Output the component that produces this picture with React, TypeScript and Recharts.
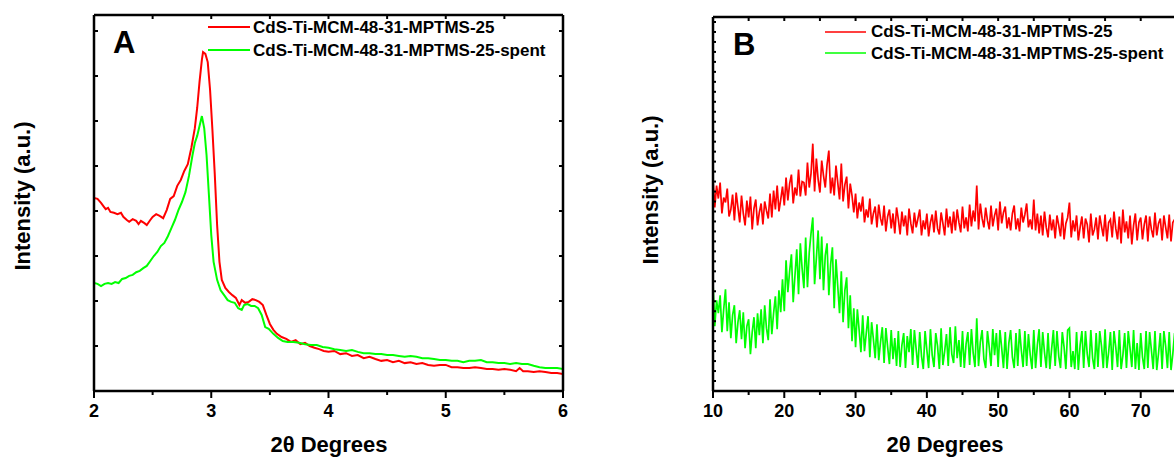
import { LineChart, Line, XAxis, YAxis } from "recharts";

// series shared by both panels
const seriesNames = ["CdS-Ti-MCM-48-31-MPTMS-25", "CdS-Ti-MCM-48-31-MPTMS-25-spent"];
const seriesColors = ["#ff0000", "#00ff00"];

// panel A: low-angle XRD, [2theta, intensity a.u.]
const aRed = [
  [2.0, 4.29], [2.03, 4.27], [2.06, 4.18], [2.08, 4.11], [2.1, 4.04], [2.12, 4.07], [2.14, 3.98],
  [2.17, 3.96], [2.2, 3.93], [2.23, 3.96], [2.25, 3.87], [2.28, 3.8], [2.3, 3.76], [2.33, 3.82],
  [2.36, 3.78], [2.38, 3.71], [2.4, 3.78], [2.43, 3.73], [2.45, 3.69], [2.48, 3.8], [2.5, 3.87],
  [2.53, 3.93], [2.56, 3.89], [2.59, 3.84], [2.62, 4.02], [2.65, 4.27], [2.68, 4.33], [2.71, 4.56],
  [2.74, 4.69], [2.77, 4.89], [2.8, 5.04], [2.83, 5.4], [2.86, 5.84], [2.88, 6.29], [2.9, 6.87],
  [2.92, 7.36], [2.93, 7.53], [2.95, 7.49], [2.97, 7.31], [2.99, 6.69], [3.01, 5.8], [3.03, 4.82],
  [3.05, 3.69], [3.07, 2.87], [3.09, 2.47], [3.12, 2.29], [3.15, 2.2], [3.18, 2.13], [3.21, 2.07],
  [3.24, 1.91], [3.26, 2.02], [3.29, 1.96], [3.32, 1.98], [3.35, 2.04], [3.38, 2.02], [3.41, 1.98],
  [3.44, 1.91], [3.47, 1.69], [3.5, 1.49], [3.53, 1.36], [3.56, 1.27], [3.6, 1.2], [3.64, 1.16],
  [3.68, 1.09], [3.72, 1.13], [3.76, 1.04], [3.8, 1.07], [3.84, 1.0], [3.88, 0.96], [3.92, 0.93],
  [3.96, 0.89], [4.0, 0.87], [4.05, 0.89], [4.1, 0.82], [4.15, 0.84], [4.2, 0.78], [4.25, 0.8],
  [4.3, 0.73], [4.35, 0.76], [4.4, 0.71], [4.45, 0.67], [4.5, 0.69], [4.55, 0.64], [4.6, 0.67],
  [4.65, 0.62], [4.7, 0.64], [4.75, 0.6], [4.8, 0.62], [4.85, 0.58], [4.9, 0.56], [4.95, 0.58],
  [5.0, 0.58], [5.05, 0.53], [5.1, 0.53], [5.15, 0.51], [5.2, 0.51], [5.25, 0.53], [5.3, 0.51],
  [5.35, 0.49], [5.4, 0.49], [5.45, 0.47], [5.5, 0.49], [5.55, 0.47], [5.6, 0.44], [5.63, 0.51],
  [5.66, 0.44], [5.7, 0.44], [5.75, 0.42], [5.8, 0.44], [5.85, 0.42], [5.9, 0.4], [5.95, 0.4],
  [6.0, 0.38],
];
const aGreen = [
  [2.0, 2.4], [2.03, 2.38], [2.06, 2.33], [2.09, 2.38], [2.12, 2.4], [2.15, 2.38], [2.18, 2.42],
  [2.21, 2.4], [2.24, 2.49], [2.27, 2.51], [2.3, 2.56], [2.33, 2.58], [2.36, 2.64], [2.39, 2.67],
  [2.42, 2.73], [2.45, 2.78], [2.48, 2.89], [2.51, 3.0], [2.54, 3.09], [2.57, 3.22], [2.6, 3.29],
  [2.63, 3.44], [2.66, 3.62], [2.69, 3.8], [2.72, 4.02], [2.75, 4.2], [2.78, 4.42], [2.81, 4.78],
  [2.84, 5.24], [2.86, 5.51], [2.88, 5.67], [2.9, 5.89], [2.92, 6.11], [2.94, 5.84], [2.96, 5.24],
  [2.98, 4.36], [3.0, 3.47], [3.02, 2.87], [3.05, 2.47], [3.08, 2.24], [3.11, 2.13], [3.14, 2.02],
  [3.17, 1.98], [3.2, 1.96], [3.23, 1.84], [3.26, 1.8], [3.28, 1.91], [3.31, 1.93], [3.34, 1.89],
  [3.37, 1.89], [3.4, 1.84], [3.43, 1.69], [3.46, 1.42], [3.49, 1.38], [3.53, 1.27], [3.57, 1.18],
  [3.61, 1.11], [3.65, 1.09], [3.7, 1.09], [3.75, 1.07], [3.8, 1.04], [3.85, 1.02], [3.9, 1.02],
  [3.95, 0.98], [4.0, 0.96], [4.05, 0.93], [4.1, 0.91], [4.15, 0.89], [4.2, 0.91], [4.25, 0.87],
  [4.3, 0.84], [4.35, 0.84], [4.4, 0.82], [4.45, 0.82], [4.5, 0.8], [4.55, 0.8], [4.6, 0.78],
  [4.65, 0.76], [4.7, 0.78], [4.75, 0.76], [4.8, 0.73], [4.85, 0.73], [4.9, 0.71], [4.95, 0.69],
  [5.0, 0.69], [5.05, 0.67], [5.1, 0.67], [5.15, 0.64], [5.2, 0.67], [5.25, 0.67], [5.3, 0.69],
  [5.35, 0.64], [5.4, 0.64], [5.45, 0.62], [5.5, 0.62], [5.55, 0.6], [5.6, 0.62], [5.65, 0.6],
  [5.7, 0.6], [5.75, 0.56], [5.8, 0.53], [5.85, 0.51], [5.9, 0.51], [5.95, 0.51], [6.0, 0.49],
];
const aLabelTicks = [2, 3, 4, 5, 6];
const aAllTicks = [2, 2.5, 3, 3.5, 4, 4.5, 5, 5.5, 6];
const aYTicks = [0, 1, 2, 3, 4, 5, 6, 7, 8];

// panel B: wide-angle XRD, sampled every 0.25 deg from 10
const bStart = 10;
const bStep = 0.25;
const bRed = [
  21.2, 18.4, 20.6, 19.3, 20.9, 17.8, 19.4, 18.9, 20.3, 17.5, 18.2, 19.7, 17.1, 19.9, 18.4, 16.9,
  19.6, 17.8, 16.6, 19.1, 17.4, 19.5, 16.2, 18.3, 19.2, 16.6, 17.9, 18.8, 16.7, 19.0, 18.1, 17.3,
  19.8, 17.4, 20.1, 18.2, 20.6, 18.0, 19.2, 20.5, 18.6, 21.4, 19.1, 20.8, 21.7, 18.8, 20.4, 19.6,
  22.2, 19.5, 21.0, 20.9, 19.6, 22.9, 20.4, 21.8, 24.8, 20.0, 23.3, 21.2, 19.9, 23.1, 21.6, 20.4,
  22.7, 24.1, 19.8, 21.4, 19.6, 22.6, 20.9, 19.2, 22.8, 19.0, 20.7, 21.5, 18.3, 20.8, 19.6, 17.9,
  19.8, 17.3, 18.9, 18.0, 19.5, 16.9, 18.2, 17.4, 19.3, 16.7, 17.8, 18.5, 16.4, 18.7, 17.3, 16.6,
  18.6, 16.0, 17.5, 18.2, 16.3, 17.8, 15.8, 18.4, 17.2, 15.7, 18.0, 16.5, 17.6, 15.6, 18.3, 16.8,
  15.8, 17.9, 16.4, 17.3, 18.2, 15.6, 17.1, 16.2, 17.8, 15.5, 16.9, 17.7, 15.9, 18.1, 16.3, 15.7,
  17.9, 16.8, 15.6, 18.3, 16.4, 17.5, 15.8, 18.0, 16.1, 18.2, 16.9, 15.9, 18.5, 16.3, 17.4, 16.0,
  18.7, 16.5, 18.1, 17.0, 20.6, 16.2, 18.8, 17.3, 16.4, 18.4, 17.1, 16.2, 18.6, 16.5, 17.6, 18.3,
  16.1, 19.0, 16.8, 17.9, 18.5, 16.3, 17.4, 16.1, 17.8, 18.6, 16.2, 17.3, 16.0, 18.4, 16.9, 17.7,
  18.8, 16.4, 17.2, 16.2, 19.2, 16.1, 17.8, 15.8, 17.6, 15.6, 18.0, 16.4, 15.4, 17.7, 16.1, 17.2,
  15.3, 17.6, 16.6, 15.5, 17.9, 15.2, 16.8, 17.4, 18.9, 15.4, 17.1, 16.0, 17.6, 15.1, 16.4, 17.5,
  15.3, 17.3, 16.7, 14.9, 17.8, 15.6, 16.2, 17.4, 15.2, 17.6, 16.5, 15.5, 17.7, 15.0, 16.9, 17.2,
  15.4, 18.0, 16.3, 15.2, 17.5, 14.8, 18.2, 15.9, 17.0, 15.3, 17.6, 14.7, 16.6, 17.8, 15.1, 16.9,
  17.4, 15.2, 16.7, 17.6, 15.0, 17.5, 16.2, 15.4, 17.9, 15.6, 16.8, 17.3, 15.1, 17.6, 16.4, 15.3,
  17.7, 15.0, 16.9, 17.2, 15.5, 17.8, 16.1, 15.2, 17.4, 16.6, 15.0, 17.7, 15.3, 17.5, 16.4, 15.6,
  17.8, 15.1, 16.7, 17.3, 15.4, 17.6, 16.2, 15.2, 17.5,
];
const bGreen = [
  10.8, 6.5, 9.1, 7.8, 9.6, 5.9, 8.2, 10.2, 6.0, 8.9, 5.3, 7.6, 8.6, 4.8, 6.9, 8.1,
  5.2, 7.9, 4.3, 6.5, 7.2, 3.7, 5.9, 7.4, 4.3, 7.8, 5.6, 8.2, 4.8, 8.6, 6.3, 5.1,
  9.2, 5.7, 7.8, 9.5, 6.2, 10.1, 7.9, 11.2, 8.0, 13.1, 9.9, 12.0, 13.7, 8.9, 11.6, 14.2,
  9.7, 14.8, 12.3, 10.3, 15.4, 10.4, 13.9, 15.8, 17.4, 10.7, 13.3, 16.1, 11.2, 15.5, 10.1, 13.6,
  14.8, 9.6, 12.7, 14.4, 8.3, 13.2, 10.5, 7.8, 12.0, 6.9, 10.1, 11.4, 6.3, 9.6, 5.0, 8.3,
  4.4, 8.2, 6.1, 3.9, 7.6, 4.0, 5.8, 7.5, 3.4, 6.9, 5.2, 3.3, 6.7, 3.1, 4.9, 6.4,
  2.8, 6.3, 4.4, 2.7, 6.1, 3.2, 5.3, 2.5, 6.0, 2.4, 4.6, 5.8, 2.3, 5.5, 3.9, 6.2,
  2.6, 6.1, 4.2, 2.3, 5.9, 3.5, 2.2, 6.0, 4.1, 2.3, 6.2, 3.6, 2.4, 5.8, 4.5, 2.2,
  6.3, 2.6, 4.0, 5.7, 2.5, 6.4, 3.7, 2.8, 6.5, 3.3, 5.1, 2.4, 6.0, 2.3, 4.7, 5.9,
  2.6, 6.2, 3.8, 2.4, 7.3, 2.5, 4.9, 6.1, 3.2, 2.3, 6.0, 4.4, 2.5, 6.2, 3.6, 5.8,
  2.4, 6.1, 4.3, 2.3, 5.9, 2.2, 4.8, 6.1, 3.4, 2.3, 5.8, 2.5, 6.2, 4.1, 2.4, 6.0,
  2.5, 5.7, 3.6, 2.2, 6.1, 2.3, 4.6, 6.2, 2.4, 5.9, 3.9, 2.3, 5.8, 2.2, 4.2, 6.1,
  2.5, 6.0, 3.5, 2.3, 5.9, 4.4, 2.2, 6.1, 6.3, 2.4, 4.0, 2.2, 5.9, 2.1, 4.6, 6.0,
  2.3, 6.0, 3.7, 2.4, 6.1, 3.3, 2.2, 5.8, 2.4, 6.0, 4.5, 2.3, 6.2, 2.3, 3.9, 5.9,
  2.1, 6.0, 4.4, 2.4, 6.1, 2.2, 3.6, 5.8, 2.3, 6.0, 4.3, 2.4, 6.1, 2.2, 4.8, 2.1,
  5.8, 3.4, 2.2, 6.0, 2.3, 5.9, 4.1, 2.2, 6.0, 2.1, 3.8, 5.8, 2.2, 6.0, 4.5, 2.3,
  5.9, 2.1, 3.7, 5.8, 2.3, 6.0, 4.2, 2.2, 5.9, 2.3, 3.6, 6.0, 2.1, 5.8, 4.4, 2.3,
  6.0, 2.2, 3.9, 5.8, 2.3, 5.9, 4.0, 2.2, 5.8,
];
const bLabelTicks = [10, 20, 30, 40, 50, 60, 70];
const bAllTicks = [10, 15, 20, 25, 30, 35, 40, 45, 50, 55, 60, 65, 70, 75, 80];
const bYTicks = Array.from({ length: 38 }, (_, i) => i);

const xTitle = "2θ Degrees";
const yTitle = "Intensity (a.u.)";

const font = "'Liberation Sans', Arial, sans-serif";
const axisLine = { stroke: "#000", strokeWidth: 2.5 };

const aRedData = aRed.map(([x, y]) => ({ x, y }));
const aGreenData = aGreen.map(([x, y]) => ({ x, y }));
const bData = bRed.map((v, i) => ({ x: bStart + i * bStep, red: v, green: bGreen[i] }));

// draws tick marks (and labels on the bottom axis) at the axis line
function tickRenderer(side: string, major: number[], majorLen: number, minorLen: number) {
  return (props: any) => {
    const { x, y, payload } = props;
    const v = payload.value;
    const isMajor = major.includes(v);
    const len = isMajor ? majorLen : minorLen;
    const ln = { stroke: "#000", strokeWidth: 2 };
    if (side === "bottom") {
      return (
        <g>
          <line x1={x} y1={y} x2={x} y2={y + len} {...ln} />
          {isMajor && (
            <text x={x} y={y + 26} textAnchor="middle" fontFamily={font} fontWeight="bold"
              fontSize={18} fill="#000">{v}</text>
          )}
        </g>
      );
    }
    if (side === "top") return <line x1={x} y1={y} x2={x} y2={y + len} {...ln} />;
    if (side === "left") return <line x1={x} y1={y} x2={x + len} y2={y} {...ln} />;
    return <line x1={x} y1={y} x2={x - len} y2={y} {...ln} />;
  };
}

function PanelA() {
  const xProps = { type: "number" as const, dataKey: "x", domain: [2, 6], ticks: aAllTicks,
    allowDataOverflow: true, height: 1, mirror: true, tickSize: 0, tickMargin: 0,
    axisLine, tickLine: false, interval: 0 as const };
  const yProps = { type: "number" as const, domain: [0, 8.356], ticks: aYTicks,
    allowDataOverflow: true, width: 1, mirror: true, tickSize: 0, tickMargin: 0,
    axisLine, tickLine: false, interval: 0 as const };
  return (
    <LineChart width={600} height={460} margin={{ top: 15, right: 37, bottom: 69, left: 94 }}>
      <XAxis xAxisId="b" orientation="bottom" {...xProps} tick={tickRenderer("bottom", aLabelTicks, 7, 4)} />
      <XAxis xAxisId="t" orientation="top" {...xProps} tick={tickRenderer("top", aLabelTicks, 4, 4)} />
      <YAxis yAxisId="l" orientation="left" {...yProps} tick={tickRenderer("left", aYTicks, 4, 4)} />
      <YAxis yAxisId="r" orientation="right" {...yProps} tick={tickRenderer("right", aYTicks, 4, 4)} />
      <Line xAxisId="b" yAxisId="l" data={aRedData} dataKey="y" stroke={seriesColors[0]}
        strokeWidth={2} dot={false} type="linear" isAnimationActive={false} />
      <Line xAxisId="b" yAxisId="l" data={aGreenData} dataKey="y" stroke={seriesColors[1]}
        strokeWidth={2} dot={false} type="linear" isAnimationActive={false} />
    </LineChart>
  );
}

function PanelB() {
  const xProps = { type: "number" as const, dataKey: "x", domain: [10, 80], ticks: bAllTicks,
    allowDataOverflow: true, height: 1, mirror: true, tickSize: 0, tickMargin: 0,
    axisLine, tickLine: false, interval: 0 as const };
  const yProps = { type: "number" as const, domain: [0, 37.5], ticks: bYTicks,
    allowDataOverflow: true, width: 1, mirror: true, tickSize: 0, tickMargin: 0,
    axisLine, tickLine: false, interval: 0 as const };
  return (
    <LineChart width={620} height={460} data={bData} margin={{ top: 17, right: 28, bottom: 69, left: 93 }}>
      <XAxis xAxisId="b" orientation="bottom" {...xProps} tick={tickRenderer("bottom", bLabelTicks, 7, 4)} />
      <XAxis xAxisId="t" orientation="top" {...xProps} tick={tickRenderer("top", bLabelTicks, 4, 4)} />
      <YAxis yAxisId="l" orientation="left" {...yProps} tick={tickRenderer("left", bYTicks, 3, 3)} />
      <YAxis yAxisId="r" orientation="right" {...yProps} tick={tickRenderer("right", bYTicks, 3, 3)} />
      <Line xAxisId="b" yAxisId="l" dataKey="red" stroke={seriesColors[0]} strokeWidth={1.7}
        dot={false} type="linear" isAnimationActive={false} />
      <Line xAxisId="b" yAxisId="l" dataKey="green" stroke={seriesColors[1]} strokeWidth={1.7}
        dot={false} type="linear" isAnimationActive={false} />
    </LineChart>
  );
}

function Texts() {
  const bold = { fontFamily: font, fontWeight: "bold", fill: "#000" } as const;
  return (
    <svg width={1174} height={460} style={{ position: "absolute", left: 0, top: 0, pointerEvents: "none" }}>
      <text x={113} y={53} fontSize={31} {...bold}>A</text>
      <text x={733} y={55} fontSize={31} {...bold}>B</text>
      <line x1={208} y1={27} x2={250} y2={27} stroke={seriesColors[0]} strokeWidth={2} />
      <line x1={208} y1={50} x2={250} y2={50} stroke={seriesColors[1]} strokeWidth={2} />
      <text x={253} y={33} fontSize={17} {...bold}>{seriesNames[0]}</text>
      <text x={253} y={56} fontSize={17} {...bold}>{seriesNames[1]}</text>
      <line x1={825} y1={32} x2={866} y2={32} stroke={seriesColors[0]} strokeWidth={1.5} />
      <line x1={825} y1={53} x2={866} y2={53} stroke={seriesColors[1]} strokeWidth={1.5} />
      <text x={871} y={37} fontSize={17} {...bold}>{seriesNames[0]}</text>
      <text x={871} y={59} fontSize={17} {...bold}>{seriesNames[1]}</text>
      <text x={329} y={452} fontSize={22} textAnchor="middle" {...bold}>{xTitle}</text>
      <text x={945} y={452} fontSize={22} textAnchor="middle" {...bold}>{xTitle}</text>
      <text x={22} y={196} fontSize={22} textAnchor="middle" dominantBaseline="central"
        transform="rotate(-90 22 196)" {...bold}>{yTitle}</text>
      <text x={650} y={190} fontSize={22} textAnchor="middle" dominantBaseline="central"
        transform="rotate(-90 650 190)" {...bold}>{yTitle}</text>
    </svg>
  );
}

export default function App() {
  return (
    <div style={{ position: "fixed", left: 0, top: 0, width: 1174, height: 460, overflow: "hidden", background: "#fff" }}>
      <div style={{ position: "absolute", left: 0, top: 0 }}>
        <PanelA />
      </div>
      <div style={{ position: "absolute", left: 620, top: 0 }}>
        <PanelB />
      </div>
      <Texts />
    </div>
  );
}
